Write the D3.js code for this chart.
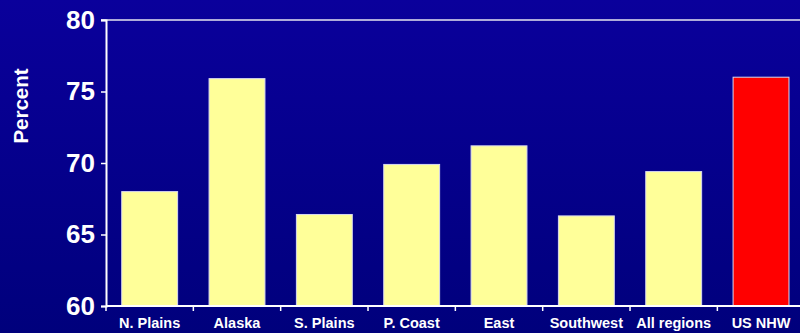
<!DOCTYPE html>
<html>
<head>
<meta charset="utf-8">
<script src="https://cdn.jsdelivr.net/npm/d3@7"></script>
<style>
  html, body { margin: 0; padding: 0; background: #000080; }
  svg { display: block; }
</style>
</head>
<body>
<svg id="chart" width="800" height="333"></svg>
<script>
// Regional percentages compared with the US non-Hispanic white figure
const categories = ["N. Plains", "Alaska", "S. Plains", "P. Coast", "East", "Southwest", "All regions", "US NHW"];
const values = [68.0, 75.9, 66.4, 69.9, 71.2, 66.3, 69.4, 76.0];
const barColors = ["#FFFF99", "#FFFF99", "#FFFF99", "#FFFF99", "#FFFF99", "#FFFF99", "#FFFF99", "#FF0000"];
const yTicks = [60, 65, 70, 75, 80];
const yTitle = "Percent";

const W = 800, H = 333;
const margin = { left: 106, top: 20, bottom: 27 };
const plotRight = 804.7;
const FONT = "'Liberation Sans', Arial, sans-serif";

const svg = d3.select("#chart");

// Vertical background gradient
const defs = svg.append("defs");
const grad = defs.append("linearGradient").attr("id", "bg")
  .attr("x1", 0).attr("y1", 0).attr("x2", 0).attr("y2", 1);
grad.append("stop").attr("offset", "0%").attr("stop-color", "#0A009B");
grad.append("stop").attr("offset", "100%").attr("stop-color", "#00007C");
svg.append("rect").attr("width", W).attr("height", H).attr("fill", "url(#bg)");

const x = d3.scaleBand().domain(categories)
  .range([margin.left, plotRight]).paddingInner(0.36).paddingOuter(0.18);
const y = d3.scaleLinear().domain([60, 80]).range([H - margin.bottom, margin.top]);

// Top frame line
svg.append("line")
  .attr("x1", margin.left - 5).attr("x2", W)
  .attr("y1", y(80)).attr("y2", y(80))
  .attr("stroke", "#E6E6F0").attr("stroke-width", 1.5);

// Bars
svg.append("g").selectAll("rect").data(values).join("rect")
  .attr("x", (d, i) => x(categories[i]))
  .attr("width", x.bandwidth())
  .attr("y", d => y(d))
  .attr("height", d => y(60) - y(d))
  .attr("fill", (d, i) => barColors[i])
  .attr("stroke", "#D8D8F0").attr("stroke-width", 1);

// Y axis
const yAxis = svg.append("g").attr("transform", `translate(${margin.left},0)`)
  .call(d3.axisLeft(y).tickValues(yTicks).tickSize(5).tickPadding(6).tickFormat(d3.format("d")));
yAxis.select(".domain").attr("stroke", "#FFFFFF").attr("stroke-width", 2);
yAxis.selectAll(".tick line").attr("stroke", "#FFFFFF").attr("stroke-width", 1.5);
yAxis.selectAll(".tick text")
  .attr("fill", "#FFFFFF")
  .attr("font-family", FONT)
  .attr("font-weight", "bold")
  .attr("font-size", "26px");

// X axis with ticks on band boundaries
const xAxisG = svg.append("g");
xAxisG.append("line")
  .attr("x1", margin.left).attr("x2", W)
  .attr("y1", y(60)).attr("y2", y(60))
  .attr("stroke", "#FFFFFF").attr("stroke-width", 2);
const boundaries = d3.range(categories.length + 1).map(i => margin.left + i * (plotRight - margin.left) / categories.length);
xAxisG.selectAll("line.tk").data(boundaries).join("line").attr("class", "tk")
  .attr("x1", d => d).attr("x2", d => d)
  .attr("y1", y(60)).attr("y2", y(60) + 5)
  .attr("stroke", "#FFFFFF").attr("stroke-width", 1.5);
xAxisG.selectAll("text").data(categories).join("text")
  .attr("x", d => x(d) + x.bandwidth() / 2)
  .attr("y", 327.5)
  .attr("text-anchor", "middle")
  .attr("fill", "#FFFFFF")
  .attr("font-family", FONT)
  .attr("font-weight", "bold")
  .attr("font-size", "14.5px")
  .text(d => d);

// Y axis title
svg.append("text")
  .attr("transform", "translate(28,106) rotate(-90)")
  .attr("text-anchor", "middle")
  .attr("fill", "#FFFFFF")
  .attr("font-family", FONT)
  .attr("font-weight", "bold")
  .attr("font-size", "20.5px")
  .text(yTitle);
</script>
</body>
</html>
